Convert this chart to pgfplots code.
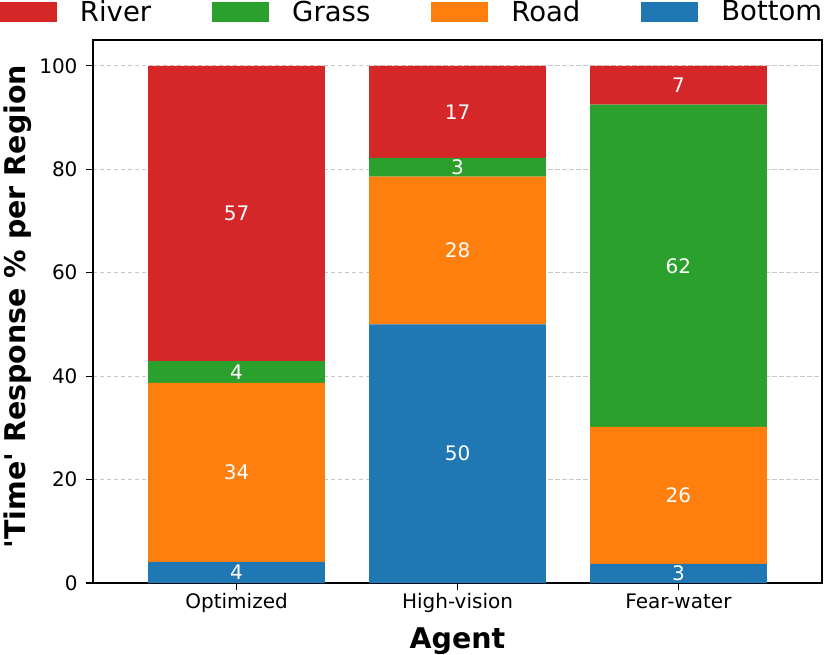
\documentclass[border=0pt]{standalone}
\usepackage{pgfplots}
\pgfplotsset{compat=1.18}
\usepackage{pgfplotstable}
\usepackage{fontspec}
\setmainfont{DejaVu Sans}[Ligatures=TeXOff]
\definecolor{cRiver}{HTML}{D62728}
\definecolor{cGrass}{HTML}{2CA02C}
\definecolor{cRoad}{HTML}{FF7F0E}
\definecolor{cBottom}{HTML}{1F77B4}
\definecolor{cGrid}{HTML}{C8C8C8}

\pgfplotstableread{
x bottom road grass river
0 4.1 34.6 4.2 57.1
1 50.0 28.6 3.6 17.8
2 3.7 26.5 62.3 7.5
}\datatable

\pgfplotstableread{
x y lab
0 2.05 4
0 21.4 34
0 40.8 4
0 71.45 57
1 25.0 50
1 64.3 28
1 80.4 3
1 91.1 17
2 1.85 3
2 16.95 26
2 61.35 62
2 96.25 7
}\labeltable

\begin{document}
\begin{tikzpicture}
\pgfplotsset{
  common/.style={
    width=729bp, height=543bp, scale only axis,
    xmin=-0.65, xmax=2.65, ymin=0, ymax=105,
  }
}
\begin{axis}[
  common,
  ybar stacked, bar width=0.8, bar shift=0pt,
  axis line style={line width=1.2bp},
  every tick/.style={line width=1.2bp, black},
  tick align=outside, major tick length=7bp,
  xtick={0,1,2}, xticklabels={Optimized,High-vision,Fear-water},
  xtick pos=bottom, ytick pos=left,
  ytick={0,20,40,60,80,100},
  /pgf/number format/assume math mode=true,
  tick label style={font=\fontsize{20bp}{24bp}\selectfont},
  yticklabel style={xshift=-5bp},
  ymajorgrids,
  major grid style={cGrid, line width=1.1bp, dash pattern=on 4.5bp off 2.5bp},
  xlabel={\textbf{Agent}},
  ylabel={\textbf{'Time' Response \% per Region}},
  label style={font=\fontsize{28.5bp}{34bp}\selectfont, inner sep=0pt},
  xlabel style={at={(0.5,-0.1197)}, anchor=base},
  ylabel style={at={(-0.1221,0.509)}, anchor=north},
  legend columns=4,
  reverse legend,
  legend style={draw=none, fill=none, inner sep=0pt, outer sep=0pt,
    at={(-0.1276,1.0521)}, anchor=west,
    font=\fontsize{27.5bp}{33bp}\selectfont,
    nodes={inner sep=0pt},
    /tikz/every odd column/.append style={column sep=23bp},
    /tikz/every even column/.append style={column sep=61bp}},
  legend image code/.code={\fill[#1] (0bp,-10bp) rectangle (57bp,10bp);},
]
\addplot[fill=cBottom, draw=none] table[x=x, y=bottom] {\datatable};
\addplot[fill=cRoad, draw=none] table[x=x, y=road] {\datatable};
\addplot[fill=cGrass, draw=none] table[x=x, y=grass] {\datatable};
\addplot[fill=cRiver, draw=none] table[x=x, y=river] {\datatable};
\legend{Bottom,Road,Grass,River}
\end{axis}
\begin{axis}[
  common, hide axis,
]
\addplot[only marks, mark=none, point meta=explicit symbolic,
  nodes near coords,
  nodes near coords style={anchor=center, text=white, inner sep=0pt,
    font=\fontsize{20bp}{24bp}\selectfont}]
  table[x=x, y=y, meta=lab] {\labeltable};
\end{axis}
\pgfresetboundingbox
\path (current axis.south west) ++(-93bp,-72bp) rectangle ++(830bp,655bp);
\end{tikzpicture}
\end{document}
